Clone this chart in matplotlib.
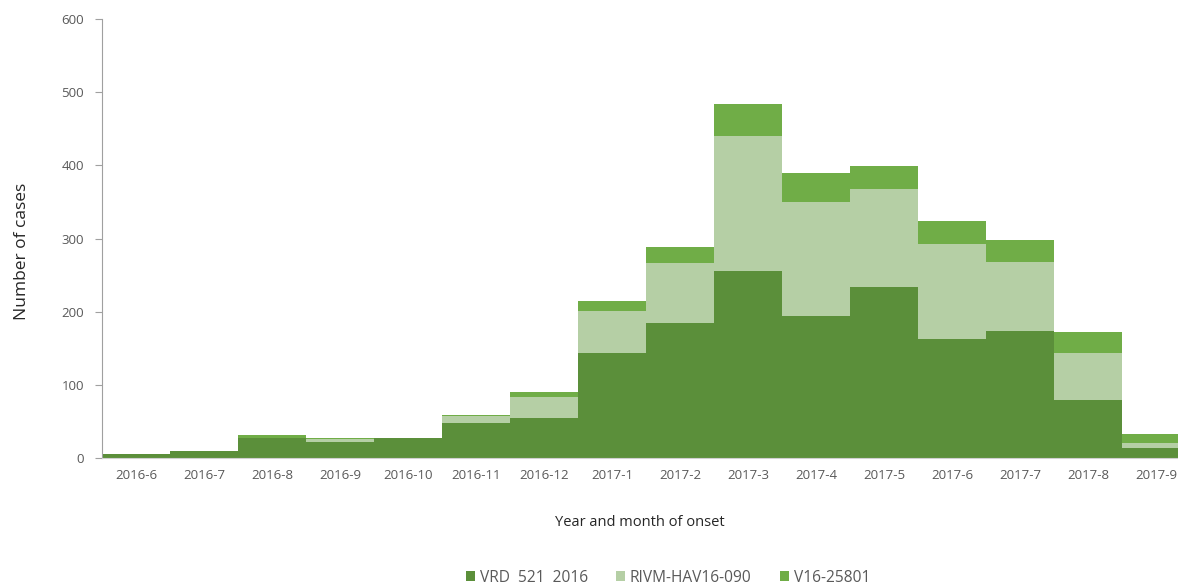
import numpy as np
import matplotlib
matplotlib.use("Agg")
import matplotlib.pyplot as plt

plt.rcParams['font.family'] = ['Open Sans', 'DejaVu Sans']

months = ["2016-6", "2016-7", "2016-8", "2016-9", "2016-10", "2016-11", "2016-12",
          "2017-1", "2017-2", "2017-3", "2017-4", "2017-5", "2017-6", "2017-7",
          "2017-8", "2017-9"]
vrd = [5, 9, 28, 22, 27, 48, 55, 144, 184, 256, 194, 234, 163, 174, 79, 14]
rivm = [0, 0, 0, 4, 0, 10, 28, 57, 82, 184, 156, 134, 129, 94, 64, 6]
v16 = [0, 0, 4, 1, 0, 1, 7, 13, 22, 44, 39, 31, 32, 30, 29, 13]

labels = ["VRD  521  2016", "RIVM-HAV16-090", "V16-25801"]
colors = ["#5B8F3A", "#B5CFA5", "#70AD47"]
text_col = "#595959"

fig = plt.figure(figsize=(11.78, 5.85), dpi=100)
ax = fig.add_axes([102 / 1178, 1 - 458 / 585, 1 - 102 / 1178, (458 - 19) / 585])

x = np.arange(len(months))
bottom = np.zeros(len(months))
for vals, lab, col in zip([vrd, rivm, v16], labels, colors):
    ax.bar(x, vals, width=1.0, bottom=bottom, color=col, label=lab, linewidth=0)
    bottom += np.array(vals)

ax.set_xlim(-0.5, 15.32)
ax.set_ylim(0, 600)
ax.set_yticks(range(0, 601, 100))
ax.set_xticks(x)
ax.set_xticklabels(months)
ax.tick_params(axis='x', length=0, pad=8, labelsize=9.5, colors=text_col)
ax.tick_params(axis='y', length=5, width=0.8, color="#A0A0A0", pad=8,
               labelsize=9.5, colors=text_col)

for s in ['top', 'right']:
    ax.spines[s].set_visible(False)
ax.spines['left'].set_color("#A0A0A0")
ax.spines['bottom'].set_color("#D0D0D0")

ax.set_ylabel("Number of cases", fontsize=12.5, color="#262626")
ax.yaxis.set_label_coords(-0.067, 0.47)
ax.set_xlabel("Year and month of onset", fontsize=10.5, color="#262626", labelpad=24)

ax.legend(loc='lower center', bbox_to_anchor=(0.526, -0.323), ncol=3, frameon=False,
          fontsize=11.2, handlelength=0.6, handleheight=0.6, handletextpad=0.3,
          columnspacing=1.8, labelcolor=text_col)

fig.savefig("out.png", dpi=100)
